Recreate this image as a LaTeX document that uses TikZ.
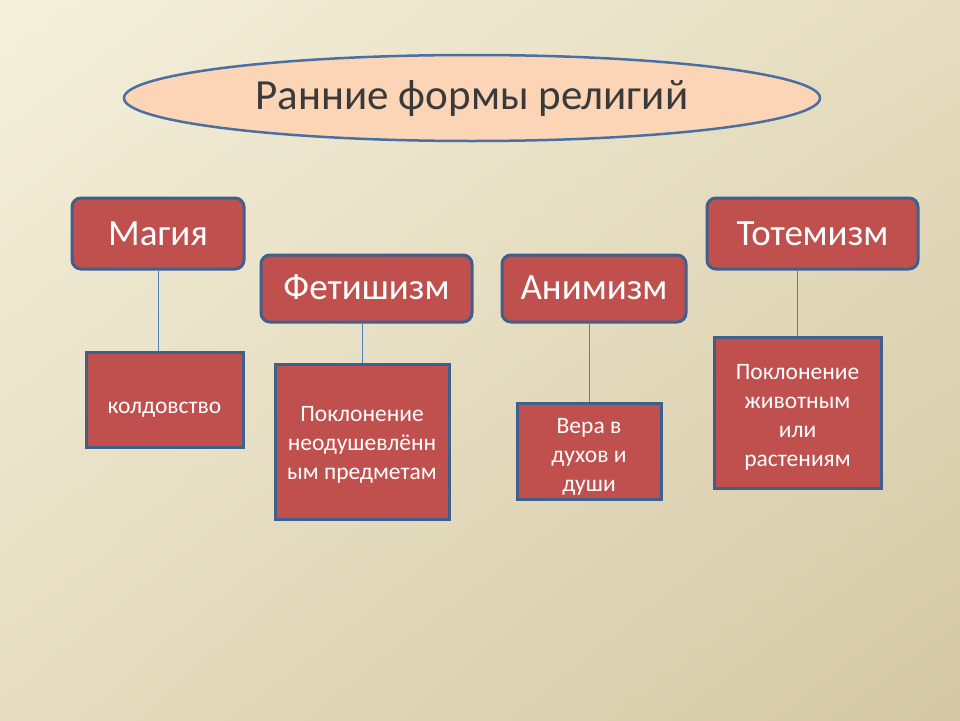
\documentclass[tikz,border=0pt]{standalone}
\usepackage{fontspec}
\setmainfont{Carlito}
\usetikzlibrary{shapes.geometric,shadings}
\definecolor{bgA}{HTML}{F4F0DC}
\definecolor{bgB}{HTML}{E6DDC0}
\definecolor{bgC}{HTML}{D4C8A4}
\definecolor{boxred}{HTML}{C0504D}
\definecolor{boxline}{HTML}{3F5F8C}
\definecolor{ellfill}{HTML}{FBD5B5}
\definecolor{ellline}{HTML}{4A6FA0}
\definecolor{conn}{HTML}{4F81BD}
\definecolor{titletext}{HTML}{3A3A3A}
\newcommand\movedown[2]{\raisebox{-#1}[\height][\depth]{\begin{tabular}{@{}c@{}}#2\end{tabular}}}
\tikzset{
  topbox/.style={draw=boxline, line width=3pt, fill=boxred, rounded corners=9pt, text=white, font=\fontsize{37}{44}\selectfont, inner sep=0pt},
  subbox/.style={draw=boxline, line width=3pt, fill=boxred, text=white, font=\fontsize{23.5}{29}\selectfont, align=center, inner sep=0pt},
  linker/.style={draw=conn, line width=1pt}
}
\begin{document}
\begin{tikzpicture}[x=1pt,y=-1pt]
\shade[upper left=bgA, upper right=bgB, lower left=bgB, lower right=bgC] (0,0) rectangle (960,720);
\useasboundingbox (0,0) rectangle (960,720);
\node[ellipse, draw=ellline, line width=2.5pt, fill=ellfill, minimum width=696pt, minimum height=86pt, inner sep=0pt, text=titletext, font=\fontsize{43}{50}\selectfont] (title) at (472,98) {\movedown{1.5pt}{Ранние формы религий}};
\node[topbox, minimum width=172pt, minimum height=71pt] (magia) at (158,233.5) {\movedown{3pt}{Магия}};
\node[topbox, minimum width=211pt, minimum height=67pt] (fetish) at (366.5,288.5) {\movedown{2pt}{Фетишизм}};
\node[topbox, minimum width=184pt, minimum height=67pt] (anim) at (594,288.5) {\movedown{2pt}{Анимизм}};
\node[topbox, minimum width=211pt, minimum height=71pt] (totem) at (812.5,233.5) {\movedown{3pt}{Тотемизм}};
\node[subbox, minimum width=157pt, minimum height=95pt] (kold) at (164.5,399.5) {\movedown{8pt}{колдовство}};
\node[subbox, minimum width=174pt, minimum height=155pt] (predm) at (362,441.5) {\movedown{3pt}{Поклонение\\неодушевлённ\\ым предметам}};
\node[subbox, minimum width=144pt, minimum height=96pt] (vera) at (589,451) {\movedown{6pt}{Вера в\\духов и\\души}};
\node[subbox, minimum width=167pt, minimum height=151pt] (zhiv) at (797.5,412.5) {\movedown{5pt}{Поклонение\\животным\\или\\растениям}};
\draw[linker] (magia.south) -- (magia.south |- kold.north);
\draw[linker] (fetish.south -| predm.north) -- (predm.north);
\draw[linker] (anim.south -| vera.north) -- (vera.north);
\draw[linker] (totem.south -| zhiv.north) -- (zhiv.north);
\end{tikzpicture}
\end{document}
